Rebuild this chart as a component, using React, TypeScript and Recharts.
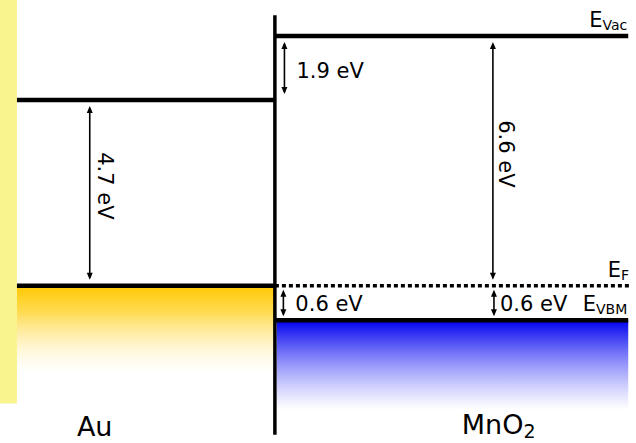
import React from "react";
import {
    ComposedChart,
    XAxis,
    YAxis,
    ReferenceLine,
    ReferenceArea,
    ReferenceDot,
} from "recharts";

// schematic band diagram: y is energy (eV, MnO2 vacuum = 0, as drawn), x is distance (interface = 0)
const X_DOMAIN = [-7.78, 10.22];
const Y_DOMAIN = [-10.75, 0.95];

// energy levels
const levelNames = ["auVac", "auFermi", "mnVac", "mnFermi", "mnVbm"];
const levelE = [-1.69, -6.6, 0, -6.6, -7.51];
const levelFrom = [-7.3, -7.3, 0, 0, 0];
const levelTo = [0, 0, 10, 10.05, 10];
const levelTags = ["", "", "Vac", "F", "VBM"];
const levelDotted = [false, false, false, true, false];

// energy gaps (arrows)
const gapLabels = ["4.7 eV", "1.9 eV", "6.6 eV", "0.6 eV", "0.6 eV"];
const gapX = [-5.24, 0.27, 6.17, 0.24, 6.2];
const gapTop = [-1.69, 0, 0, -6.6, -6.6];
const gapBottom = [-6.6, -1.69, -6.6, -7.51, -7.51];

// filled bands under the levels
const bandNames = ["Au", "MnO2"];
const bandFrom = [-7.3, 0.05];
const bandTo = [0, 10];
const bandTop = [-6.6, -7.51];
const bandBottom = [-8.9, -9.87];

// contact strip and interface
const stripX = [-7.78, -7.3];
const stripY = [-9.71, 0.95];
const interfaceY = [0.55, -10.53];

// material captions
const captionX = [-5.1, 5.29];
const captionY = [-10.56, -10.5];

// label placement for the arrows (px)
const gapStyle = [
    { vertical: true, dx: 8, dy: -7, inset: 6 },
    { vertical: false, dx: 12, dy: 2, inset: 6 },
    { vertical: true, dx: 6, dy: -7, inset: 6 },
    { vertical: false, dx: 12, dy: 0, inset: 4 },
    { vertical: false, dx: 6, dy: 0, inset: 4 },
];

const FONT = "DejaVu Sans";
const bandFills = ["url(#goldFade)", "url(#blueFade)"];

function LevelLine(props: any) {
    const { x1, y1, x2, y2, dotted, tag } = props;
    return (
        <g>
            <line
                x1={x1}
                y1={y1}
                x2={x2}
                y2={y2}
                stroke="#000"
                strokeWidth={dotted ? 3.5 : 4.5}
                strokeDasharray={dotted ? "4 3" : undefined}
            />
            {tag ? (
                <text
                    x={x2 - 1}
                    y={y1 - 9}
                    textAnchor="end"
                    fontFamily={FONT}
                    fontSize={21}
                    fill="#000"
                >
                    <tspan>E</tspan>
                    <tspan fontSize={14} dy={3}>
                        {tag}
                    </tspan>
                </text>
            ) : null}
        </g>
    );
}

function GapArrow(props: any) {
    const { x1, y1, y2, text, style } = props;
    const top = Math.min(y1, y2) + style.inset;
    const bottom = Math.max(y1, y2) - style.inset;
    const mid = (top + bottom) / 2;
    const head = 7;
    const hw = 3;
    const tx = x1 + style.dx;
    const ty = mid + style.dy;
    return (
        <g>
            <line x1={x1} y1={top + 2} x2={x1} y2={bottom - 2} stroke="#000" strokeWidth={1.6} />
            <path d={`M${x1},${top} L${x1 - hw},${top + head} L${x1 + hw},${top + head} Z`} fill="#000" />
            <path d={`M${x1},${bottom} L${x1 - hw},${bottom - head} L${x1 + hw},${bottom - head} Z`} fill="#000" />
            {style.vertical ? (
                <text
                    x={tx}
                    y={ty}
                    transform={`rotate(90, ${tx}, ${ty})`}
                    textAnchor="middle"
                    fontFamily={FONT}
                    fontSize={21}
                    fill="#000"
                >
                    {text}
                </text>
            ) : (
                <text x={tx} y={ty + 7.6} fontFamily={FONT} fontSize={21} fill="#000">
                    {text}
                </text>
            )}
        </g>
    );
}

function Caption(props: any) {
    const { cx, cy, name } = props;
    if (name === "MnO2") {
        return (
            <text x={cx} y={cy} fontFamily={FONT} fontSize={27} fill="#000">
                <tspan>MnO</tspan>
                <tspan fontSize={19} dy={4}>
                    2
                </tspan>
            </text>
        );
    }
    return (
        <text x={cx} y={cy} textAnchor="middle" fontFamily={FONT} fontSize={27} fill="#000">
            {name}
        </text>
    );
}

export default function App() {
    return (
        <div style={{ position: "absolute", left: 0, top: 0, background: "#fff" }}>
            <ComposedChart
                width={636}
                height={443}
                data={[]}
                margin={{ top: 0, right: 0, bottom: 0, left: 0 }}
            >
                <defs>
                    <linearGradient id="goldFade" x1="0" y1="0" x2="0" y2="1">
                        <stop offset="0%" stopColor="#FFC800" stopOpacity={1} />
                        <stop offset="30%" stopColor="#FFD226" stopOpacity={0.8} />
                        <stop offset="100%" stopColor="#FFF0B0" stopOpacity={0} />
                    </linearGradient>
                    <linearGradient id="blueFade" x1="0" y1="0" x2="0" y2="1">
                        <stop offset="0%" stopColor="#0000EE" stopOpacity={1} />
                        <stop offset="100%" stopColor="#6060FF" stopOpacity={0} />
                    </linearGradient>
                </defs>
                <XAxis type="number" dataKey="x" domain={X_DOMAIN} allowDataOverflow hide />
                <YAxis type="number" dataKey="y" domain={Y_DOMAIN} allowDataOverflow hide />

                <ReferenceArea
                    x1={stripX[0]}
                    x2={stripX[1]}
                    y1={stripY[0]}
                    y2={stripY[1]}
                    fill="#FAF48E"
                    fillOpacity={1}
                    stroke="none"
                    ifOverflow="visible"
                />

                {bandNames.map((b, i) => (
                    <ReferenceArea
                        key={b}
                        x1={bandFrom[i]}
                        x2={bandTo[i]}
                        y1={bandBottom[i]}
                        y2={bandTop[i]}
                        fill={bandFills[i]}
                        fillOpacity={1}
                        stroke="none"
                        ifOverflow="visible"
                    />
                ))}

                <ReferenceLine
                    segment={[
                        { x: 0, y: interfaceY[0] },
                        { x: 0, y: interfaceY[1] },
                    ]}
                    stroke="#000"
                    strokeWidth={3.5}
                    ifOverflow="visible"
                />

                {levelNames.map((n, i) => (
                    <ReferenceLine
                        key={n}
                        segment={[
                            { x: levelFrom[i], y: levelE[i] },
                            { x: levelTo[i], y: levelE[i] },
                        ]}
                        ifOverflow="visible"
                        shape={(p: any) => (
                            <LevelLine {...p} dotted={levelDotted[i]} tag={levelTags[i]} />
                        )}
                    />
                ))}

                {gapLabels.map((g, i) => (
                    <ReferenceLine
                        key={"gap" + i}
                        segment={[
                            { x: gapX[i], y: gapTop[i] },
                            { x: gapX[i], y: gapBottom[i] },
                        ]}
                        ifOverflow="visible"
                        shape={(p: any) => <GapArrow {...p} text={g} style={gapStyle[i]} />}
                    />
                ))}

                {bandNames.map((b, i) => (
                    <ReferenceDot
                        key={"cap" + b}
                        x={captionX[i]}
                        y={captionY[i]}
                        r={0}
                        ifOverflow="visible"
                        shape={(p: any) => <Caption {...p} name={b} />}
                    />
                ))}
            </ComposedChart>
        </div>
    );
}
